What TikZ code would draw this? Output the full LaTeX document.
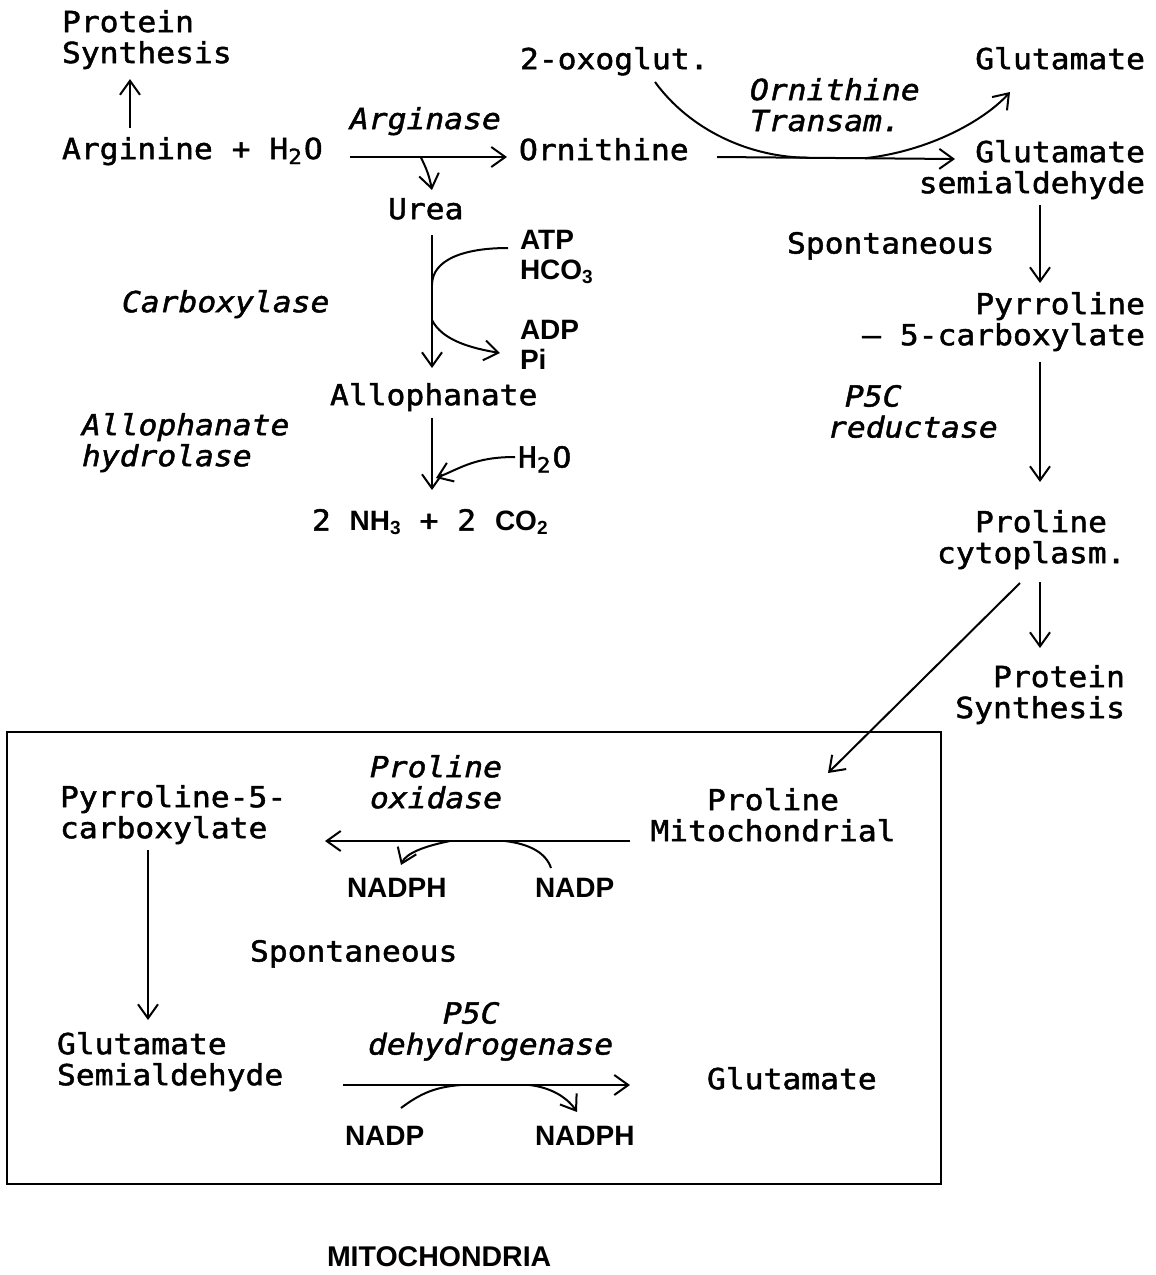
\documentclass[tikz,border=0pt]{standalone}
\usepackage{fontspec}
\usetikzlibrary{arrows.meta,calc}
\newfontfamily\mono[FakeStretch=1.08,FakeBold=1.6,ItalicFont={DejaVu Sans Mono Oblique}]{DejaVu Sans Mono}
\newfontfamily\lab{Liberation Sans}
\newcommand\msub[1]{\raisebox{-5pt}{\fontsize{21}{21}\selectfont#1}\kern2pt}
\newcommand\lsub[1]{\raisebox{-4pt}{\fontsize{19}{19}\selectfont#1}}
\newcommand\lbf{\lab\bfseries\fontsize{28}{30}\selectfont}
\begin{document}
\begin{tikzpicture}[x=1pt,y=-1pt,
  t/.style={inner sep=0pt,outer sep=0pt,font=\mono\fontsize{29}{31}\selectfont,align=left},
  it/.style={t,font=\mono\itshape\fontsize{29}{31}\selectfont},
  lb/.style={inner sep=0pt,outer sep=0pt,font=\lbf,align=left},
  ar/.style={line width=2pt,-{Straight Barb[length=14pt,width=20pt]}},
  ln/.style={line width=2pt}]
\useasboundingbox (0,0) rectangle (1156,1275);
% ---------- nodes ----------
\node[t,anchor=north west] (ps1) at (62,10) {Protein\\Synthesis};
\node[t,anchor=north west] (arg) at (62,137) {Arginine + H\msub{2}O};
\node[it,anchor=north west] (argase) at (350,107) {Arginase};
\node[t,anchor=north west] (orn) at (519,138) {Ornithine};
\node[t,anchor=north west] (urea) at (388,198) {Urea};
\node[t,anchor=north west] (oxo) at (520,47) {2-oxoglut.};
\node[it,anchor=north west] (otr) at (750,78) {Ornithine\\Transam.};
\node[t,anchor=north east] (glu1) at (1145,47) {Glutamate};
\node[t,anchor=north east,align=right] (gsa) at (1145,140) {Glutamate\\semialdehyde};
\node[t,anchor=north west] (sp1) at (787,232) {Spontaneous};
\node[t,anchor=north east,align=right] (p5c) at (1145,292) {Pyrroline\\– 5-carboxylate};
\node[it,anchor=north west] (p5cr) at (828,385) {\hspace*{17pt}P5C\\reductase};
\node[t,anchor=north west] (proc) at (937,510) {\hspace*{38pt}Proline\\cytoplasm.};
\node[t,anchor=north east,align=right] (ps2) at (1125,665) {Protein\\Synthesis};
\node[it,anchor=north west] (carb) at (122,290) {Carboxylase};
\node[lb,anchor=north west] (atp) at (520,230) {ATP\\HCO\lsub{3}};
\node[lb,anchor=north west] (adp) at (520,320) {ADP\\Pi};
\node[t,anchor=north west] (allo) at (330,383) {Allophanate};
\node[it,anchor=north west] (alloh) at (82,413) {Allophanate\\hydrolase};
\node[t,anchor=north west] (h2o) at (518,446) {H\msub{2}O};
\node[t,anchor=north west] (nh3) at (312,509) {2 {\lbf NH\lsub{3}} + 2 {\lbf CO\lsub{2}}};
% mitochondria box
\draw[line width=2pt] (7,732) rectangle (941,1184);
\node[t,anchor=north west] (pyr2) at (60,785) {Pyrroline-5-\\carboxylate};
\node[it,anchor=north west] (pox) at (370,755) {Proline\\oxidase};
\node[t,anchor=north,align=center] (prom) at (773,788) {Proline\\Mitochondrial};
\node[lb,anchor=north west] (nadph1) at (347,878) {NADPH};
\node[lb,anchor=north west] (nadp1) at (535,878) {NADP};
\node[t,anchor=north west] (sp2) at (250,940) {Spontaneous};
\node[t,anchor=north west] (gsa2) at (57,1032) {Glutamate\\Semialdehyde};
\node[it,anchor=north west] (p5cd) at (368,1002) {\hspace*{75pt}P5C\\dehydrogenase};
\node[t,anchor=north west] (glu2) at (707,1067) {Glutamate};
\node[lb,anchor=north west] (nadp2) at (345,1126) {NADP};
\node[lb,anchor=north west] (nadph2) at (535,1126) {NADPH};
\node[lb,anchor=north west,font=\lab\bfseries\fontsize{28.5}{30}\selectfont] (mito) at (327,1247) {MITOCHONDRIA};
% ---------- connectors ----------
\draw[ar] ($(arg.north west)+(68,-9)$) -- ($(ps1.south west)+(68,10)$);
% arginase
\coordinate (a1) at ($(arg.north west)+(288,20)$);
\coordinate (a2) at ($(orn.north west)+(-12,19)$);
\draw[ar] (a1) -- (a2);
\coordinate (ab) at ($(a1)!0.45!(a2)$);
\draw[ar] (ab) to[bend left=8] ($(urea.north west)+(44,-8)$);
% ornithine transaminase
\coordinate (o1) at ($(orn.north west)+(198,19)$);
\coordinate (o2) at ($(gsa.north east)+(-190,19)$);
\draw[ar] (o1) -- (o2);
\coordinate (t1) at ($(o1)!0.39!(o2)$);
\coordinate (t2) at ($(o1)!0.62!(o2)$);
\draw[ln] ($(oxo.north west)+(135,35)$) .. controls +(35,48) and +(-60,0) .. (t1);
\draw[ar] (t2) .. controls +(65,-7) and +(-25,28) .. ($(glu1.north east)+(-135,45)$);
% right column
\draw[ar] ($(gsa.north east)+(-105,65)$) -- ($(p5c.north east)+(-105,-9)$);
\draw[ar] ($(p5c.north east)+(-105,70)$) -- ($(proc.north west)+(103,-28)$);
\draw[ar] ($(proc.north west)+(103,72)$) -- ($(ps2.north east)+(-85,-17)$);
\draw[ar] ($(proc.north west)+(83,73)$) -- ($(prom.north)+(55,-15)$);
% urea carboxylase
\coordinate (cj1) at ($(urea.north west)+(44,87)$);
\coordinate (cj2) at ($(urea.north west)+(44,122)$);
\draw[ar] ($(urea.north west)+(44,37)$) -- ($(allo.north west)+(102,-15)$);
\draw[ln] ($(atp.north west)+(-12,18)$) .. controls +(-45,0) and +(0,-25) .. (cj1);
\draw[ar] (cj2) .. controls +(10,20) and +(-30,-5) .. ($(adp.north west)+(-20,33)$);
% allophanate hydrolase
\draw[ar] ($(allo.north west)+(102,35)$) -- ($(nh3.north west)+(120,-19)$);
\draw[ar] ($(h2o.north west)+(-3,11)$) .. controls +(-40,0) and +(25,-10) .. ($(nh3.north west)+(124,-31)$);
% proline oxidase
\coordinate (ps) at ($(prom.north)+(-143,53)$);
\coordinate (pe) at ($(pyr2.north west)+(265,56)$);
\draw[ar] (ps) -- (pe);
\coordinate (q1) at ($(ps)!0.59!(pe)$);
\coordinate (q2) at ($(ps)!0.41!(pe)$);
\draw[ar] (q1) .. controls +(-25,5) and +(5,-12) .. ($(nadph1.north west)+(54,-13)$);
\draw[ln] ($(nadp1.north west)+(16,-10)$) .. controls +(-5,-15) and +(25,3) .. (q2);
% spontaneous
\draw[ar] ($(pyr2.north west)+(88,65)$) -- ($(gsa2.north west)+(91,-12)$);
% P5C dehydrogenase
\coordinate (ds) at ($(gsa2.north west)+(286,53)$);
\coordinate (de) at ($(glu2.north west)+(-77,18)$);
\draw[ar] (ds) -- (de);
\coordinate (d1) at ($(ds)!0.41!(de)$);
\coordinate (d2) at ($(ds)!0.65!(de)$);
\draw[ln] ($(nadp2.north west)+(56,-18)$) .. controls +(20,-15) and +(-25,2) .. (d1);
\draw[ar] (d2) .. controls +(25,3) and +(-8,-12) .. ($(nadph2.north west)+(42,-14)$);
\end{tikzpicture}
\end{document}
